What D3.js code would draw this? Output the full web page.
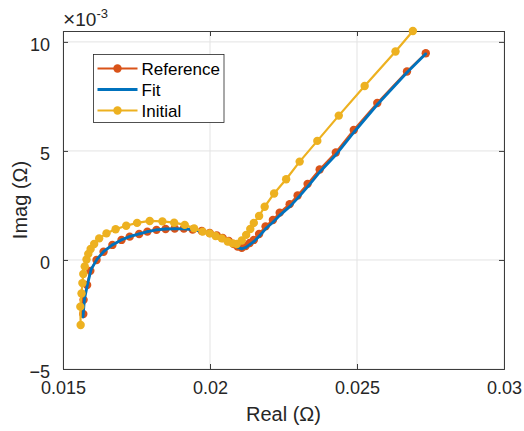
<!DOCTYPE html>
<html>
<head>
<meta charset="utf-8">
<script src="https://cdn.jsdelivr.net/npm/d3@7"></script>
<style>
  body { margin: 0; background: #fff; }
  svg { display: block; font-family: "Liberation Sans", Arial, Helvetica, sans-serif; }
</style>
</head>
<body>
<div id="chart"></div>
<script>
// Nyquist data: real part in ohm, imaginary part in units of 1e-3 ohm
var refRe = [0.01569, 0.01570, 0.01582, 0.01593, 0.01614, 0.01638, 0.01668, 0.01699, 0.01727, 0.01759,
  0.01787, 0.01818, 0.01849, 0.01880, 0.01911, 0.01941, 0.01972, 0.01999, 0.02023, 0.02043,
  0.02064, 0.02081, 0.02094, 0.02108, 0.02121, 0.02135, 0.02149, 0.02167, 0.02189, 0.02214,
  0.02237, 0.02271, 0.02298, 0.02332, 0.02373, 0.02428, 0.02489, 0.02569, 0.02670, 0.02734];
var refIm = [-2.48, -1.83, -1.15, -0.50, 0.00, 0.38, 0.69, 0.92, 1.07, 1.19,
  1.30, 1.38, 1.42, 1.44, 1.44, 1.40, 1.33, 1.24, 1.12, 1.01,
  0.87, 0.73, 0.62, 0.56, 0.64, 0.78, 0.92, 1.19, 1.54, 1.83,
  2.17, 2.56, 2.96, 3.49, 4.15, 4.93, 5.96, 7.20, 8.64, 9.48];

var fitRe = [0.01568, 0.01573, 0.01584, 0.01596, 0.01616, 0.01640, 0.01669, 0.01700, 0.01728, 0.01760,
  0.01788, 0.01818, 0.01849, 0.01880, 0.01911, 0.01941, 0.01971, 0.01998, 0.02022, 0.02043,
  0.02064, 0.02081, 0.02095, 0.02108, 0.02121, 0.02135, 0.02149, 0.02168, 0.02190, 0.02215,
  0.02239, 0.02273, 0.02300, 0.02334, 0.02375, 0.02430, 0.02491, 0.02570, 0.02670, 0.02734];
var fitIm = [-2.62, -1.80, -1.08, -0.42, 0.04, 0.41, 0.70, 0.93, 1.08, 1.20,
  1.30, 1.38, 1.42, 1.43, 1.43, 1.39, 1.31, 1.21, 1.09, 0.97,
  0.83, 0.70, 0.58, 0.51, 0.57, 0.70, 0.84, 1.10, 1.44, 1.74,
  2.07, 2.47, 2.86, 3.39, 4.06, 4.85, 5.88, 7.14, 8.60, 9.46];

var initRe = [0.01560, 0.01559, 0.01563, 0.01566, 0.01569, 0.01574, 0.01580, 0.01586, 0.01594, 0.01606,
  0.01623, 0.01648, 0.01679, 0.01715, 0.01752, 0.01795, 0.01838, 0.01878, 0.01914, 0.01946,
  0.01975, 0.01999, 0.02019, 0.02040, 0.02060, 0.02077, 0.02091, 0.02108, 0.02123, 0.02137,
  0.02149, 0.02167, 0.02186, 0.02218, 0.02259, 0.02305, 0.02365, 0.02438, 0.02526, 0.02631, 0.02690];
var initIm = [-2.98, -2.14, -1.54, -1.06, -0.64, -0.30, 0.02, 0.28, 0.50, 0.73,
  0.99, 1.22, 1.41, 1.57, 1.70, 1.79, 1.77, 1.71, 1.61, 1.45,
  1.30, 1.22, 1.10, 0.99, 0.85, 0.76, 0.73, 0.89, 1.15, 1.42,
  1.70, 2.02, 2.44, 3.05, 3.70, 4.51, 5.46, 6.62, 7.98, 9.56, 10.50];

var xTicks = [0.015, 0.02, 0.025, 0.03];
var yTicks = [-5, 0, 5, 10];

var width = 524, height = 431;
var margin = { top: 31, right: 20, bottom: 62, left: 63 };
var plotW = width - margin.left - margin.right,
  plotH = height - margin.top - margin.bottom;

var svg = d3.select('#chart').append('svg')
  .attr('width', width)
  .attr('height', height);

var x = d3.scaleLinear().domain([0.015, 0.03]).range([margin.left, margin.left + plotW]);
var y = d3.scaleLinear().domain([-5, 10.5]).range([margin.top + plotH, margin.top]);

//grid lines
var grid = svg.append('g').attr('stroke', '#e3e3e3').attr('stroke-width', 1);
xTicks.forEach(function (t) {
  grid.append('line').attr('x1', x(t)).attr('x2', x(t)).attr('y1', y.range()[1]).attr('y2', y.range()[0]);
});
yTicks.forEach(function (t) {
  grid.append('line').attr('y1', y(t)).attr('y2', y(t)).attr('x1', x.range()[0]).attr('x2', x.range()[1]);
});

//axes, ticks pointing inwards on all four sides
var axisColor = '#3c3c3c';
var tickLen = -5;
var xb = svg.append('g').attr('transform', 'translate(0,' + y.range()[0] + ')')
  .call(d3.axisBottom(x).tickValues(xTicks).tickSize(tickLen).tickPadding(12).tickFormat(d3.format('')));
var xt = svg.append('g').attr('transform', 'translate(0,' + y.range()[1] + ')')
  .call(d3.axisTop(x).tickValues(xTicks).tickSize(tickLen).tickFormat(''));
var yl = svg.append('g').attr('transform', 'translate(' + x.range()[0] + ',0)')
  .call(d3.axisLeft(y).tickValues(yTicks).tickSize(tickLen).tickPadding(13).tickFormat(d3.format('d')));
var yr = svg.append('g').attr('transform', 'translate(' + x.range()[1] + ',0)')
  .call(d3.axisRight(y).tickValues(yTicks).tickSize(tickLen).tickFormat(''));

[xb, xt, yl, yr].forEach(function (a) {
  a.select('.domain').attr('stroke', axisColor).attr('stroke-width', 1);
  a.selectAll('.tick line').attr('stroke', axisColor);
  a.selectAll('.tick text').attr('fill', '#262626').style('font-size', '18px')
    .style('font-family', '"Liberation Sans", Arial, sans-serif');
});
yl.selectAll('.tick text').attr('dy', '0.45em');

//multiplier label
var mult = svg.append('text').attr('x', 63).attr('y', 26).attr('fill', '#262626')
  .style('font-size', '19px');
mult.append('tspan').style('font-size', '21px').text('\u00d7');
mult.append('tspan').text('10');
mult.append('tspan').attr('dy', -8).style('font-size', '13px').text('-3');

//axis titles
svg.append('text').attr('x', x(0.0225)).attr('y', 421)
  .attr('text-anchor', 'middle').attr('fill', '#262626').style('font-size', '20px')
  .text('Real (\u03a9)');
svg.append('text')
  .attr('transform', 'translate(27,' + y(2.75) + ') rotate(-90)')
  .attr('text-anchor', 'middle').attr('fill', '#262626').style('font-size', '20px')
  .text('Imag (\u03a9)');

var series = [
  { name: 'Reference', re: refRe, im: refIm, color: '#D95319', lw: 2.2, r: 4.2 },
  { name: 'Fit', re: fitRe, im: fitIm, color: '#0072BD', lw: 2.8, r: 1.3 },
  { name: 'Initial', re: initRe, im: initIm, color: '#EDB120', lw: 2.2, r: 4.2 }
];

var line = d3.line()
  .x(function (d) { return x(d[0]); })
  .y(function (d) { return y(d[1]); });

series.forEach(function (s) {
  var pts = s.re.map(function (v, i) { return [v, s.im[i]]; });
  var g = svg.append('g');
  g.append('path').datum(pts)
    .attr('d', line)
    .attr('fill', 'none')
    .attr('stroke', s.color)
    .attr('stroke-width', s.lw)
    .attr('stroke-linejoin', 'round');
  g.selectAll('circle').data(pts).enter().append('circle')
    .attr('cx', function (d) { return x(d[0]); })
    .attr('cy', function (d) { return y(d[1]); })
    .attr('r', s.r)
    .attr('fill', s.color);
});

//legend
var legend = svg.append('g').attr('transform', 'translate(93.5,54.5)');
legend.append('rect').attr('width', 130.5).attr('height', 68)
  .attr('fill', '#fff').attr('stroke', '#262626').attr('stroke-width', 0.8);
series.forEach(function (s, i) {
  var ly = 14 + i * 21;
  legend.append('line').attr('x1', 4).attr('x2', 44).attr('y1', ly).attr('y2', ly)
    .attr('stroke', s.color).attr('stroke-width', s.lw);
  legend.append('circle').attr('cx', 24).attr('cy', ly).attr('r', s.r).attr('fill', s.color);
  legend.append('text').attr('x', 48).attr('y', ly + 6).attr('fill', '#000')
    .style('font-size', '17px').text(s.name);
});
</script>
</body>
</html>
